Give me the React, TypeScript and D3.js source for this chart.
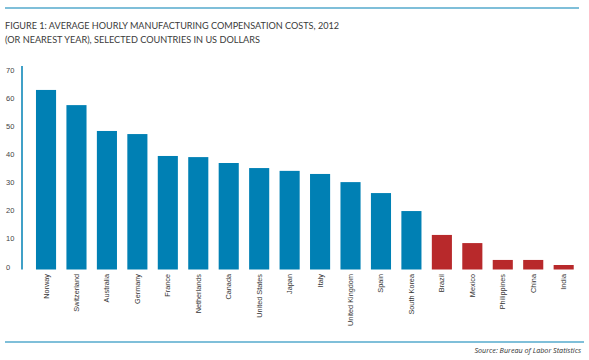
import React from "react";
import * as d3 from "d3";

const countries = ["Norway","Switzerland","Australia","Germany","France","Netherlands","Canada","United States","Japan","Italy","United Kingdom","Spain","South Korea","Brazil","Mexico","Philippines","China","India"];
const costs = [63.9,58.5,49.3,48.2,40.4,40.0,37.9,36.1,35.1,34.0,31.1,27.2,20.8,12.3,9.4,3.4,3.4,1.6];
const groups = ["dev","dev","dev","dev","dev","dev","dev","dev","dev","dev","dev","dev","dev","emg","emg","emg","emg","emg"];
const yTicks = [0,10,20,30,40,50,60,70];
const titleLines = ["FIGURE 1: AVERAGE HOURLY MANUFACTURING COMPENSATION COSTS, 2012", "(OR NEAREST YEAR), SELECTED COUNTRIES IN US DOLLARS"];
const source = "Source: Bureau of Labor Statistics";

const W = 589, H = 360;
const BLUE = "#0080b4";
const RED = "#b8292b";

export default function App() {
  const x = d3.scaleBand<string>().domain(countries).range([30.8, 578.9]).paddingInner(0.34).paddingOuter(0.17);
  const y = d3.scaleLinear().domain([0, 70]).range([269.5, 72.8]);
  return (
    <svg width={W} height={H} style={{ position: "absolute", left: 0, top: 0, background: "#fff" }}>
      <line x1={5} x2={579} y1={8} y2={8} stroke={BLUE} strokeWidth={1.2} />
      {titleLines.map((t, i) => (
        <text key={i} x={5} y={i === 0 ? 29.3 : 43} fontFamily="Lato, 'Open Sans', sans-serif" fontSize={9.6} fill="#3a3a3a"
          textLength={i === 0 ? 334 : 255} lengthAdjust="spacingAndGlyphs">{t}</text>
      ))}
      <line x1={22} x2={22} y1={66} y2={269.5} stroke={BLUE} strokeWidth={1.5} />
      {yTicks.map(t => (
        <text key={t} x={6} y={y(t)} fontFamily="'Liberation Sans', Arial, sans-serif" fontSize={7.5} fill="#444">{t}</text>
      ))}
      {countries.map((c, i) => (
        <rect key={c} x={x(c)} y={y(costs[i])} width={x.bandwidth()} height={y(0) - y(costs[i])} fill={groups[i] === "dev" ? BLUE : RED} />
      ))}
      {countries.map(c => {
        const cx = (x(c) as number) + x.bandwidth() / 2 + 2.5;
        return (
          <text key={c} transform={`translate(${cx},274) rotate(-90)`} textAnchor="end" fontFamily="'Liberation Sans', Arial, sans-serif" fontSize={7.3} fill="#333">{c}</text>
        );
      })}
      <line x1={5} x2={584} y1={342} y2={342} stroke={BLUE} strokeWidth={1.2} />
      <text x={581} y={353} textAnchor="end" fontFamily="'Open Sans', sans-serif" fontStyle="italic" fontSize={7.2} fill="#333">{source}</text>
    </svg>
  );
}
